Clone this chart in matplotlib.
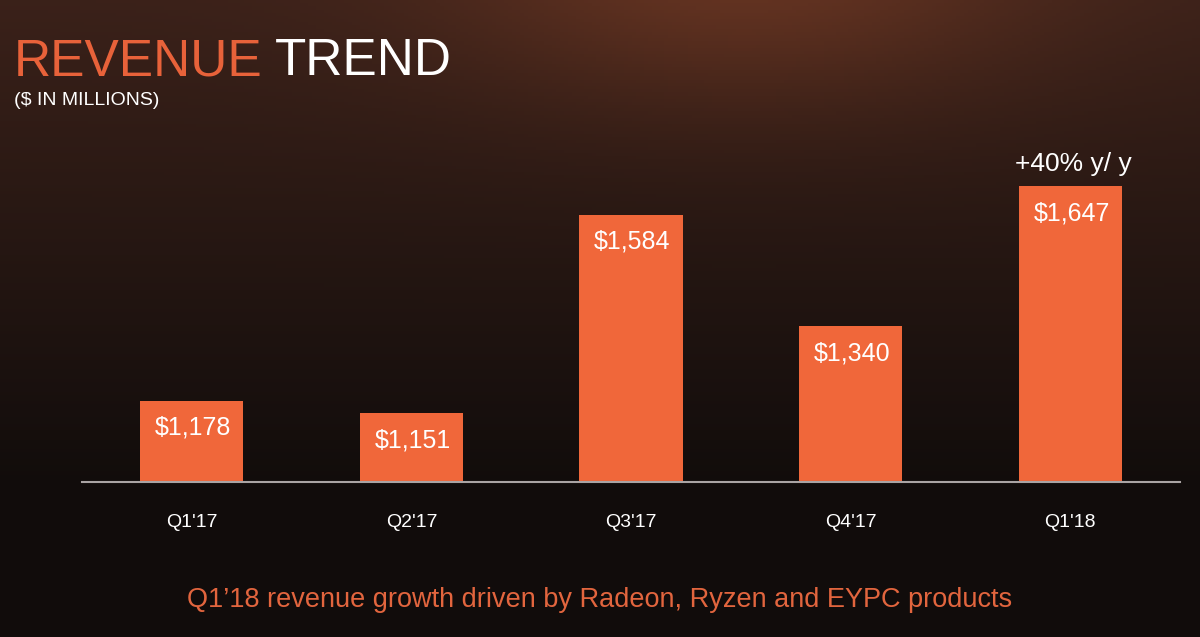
import numpy as np
import matplotlib.pyplot as plt

quarters = ["Q1'17", "Q2'17", "Q3'17", "Q4'17", "Q1'18"]
revenue = [1178, 1151, 1584, 1340, 1647]
value_labels = ["$1,178", "$1,151", "$1,584", "$1,340", "$1,647"]
growth_note = "+40% y/ y"
footer = "Q1\u201918 revenue growth driven by Radeon, Ryzen and EYPC products"

bar_color = '#f0673a'
title_orange = '#e8623a'

plt.rcParams['font.family'] = ['Liberation Sans', 'DejaVu Sans']

fig = plt.figure(figsize=(12, 6.37), dpi=100)

# dark brown-to-black background with a warm glow near the top
bg = fig.add_axes([0, 0, 1, 1])
yy, xx = np.mgrid[0:1:200j, 0:1:300j]
top = np.array([0.23, 0.13, 0.10])
bottom = np.array([0.07, 0.05, 0.045])
t = np.clip(yy / 0.75, 0, 1)[..., None]
img = top * (1 - t) + bottom * t
glow = np.exp(-(((xx - 0.62) / 0.25) ** 2 + ((yy + 0.05) / 0.22) ** 2))[..., None]
img = np.clip(img + glow * np.array([0.16, 0.07, 0.03]), 0, 1)
bg.imshow(img, extent=[0, 1, 0, 1], aspect='auto', origin='upper')
bg.axis('off')

ax = fig.add_axes([82 / 1200, 155 / 637, 1098 / 1200, 342 / 637])
ax.set_facecolor('none')
x = np.arange(len(quarters))
ax.bar(x, revenue, width=0.47, color=bar_color, zorder=2)
ax.set_xlim(-0.5, 4.5)
ax.set_ylim(1000, 1747)

for i, v in enumerate(revenue):
    ax.annotate(value_labels[i], (x[i], v), xytext=(1, -11), textcoords='offset points',
                ha='center', va='top', color='white', fontsize=18)
ax.annotate(growth_note, (x[-1], revenue[-1]), xytext=(2, 7), textcoords='offset points',
            ha='center', va='bottom', color='white', fontsize=19)

for s in ['top', 'right', 'left']:
    ax.spines[s].set_visible(False)
ax.spines['bottom'].set_color('#aaa4a4')
ax.spines['bottom'].set_linewidth(1.5)
ax.spines['bottom'].set_zorder(3)
ax.set_yticks([])
ax.set_xticks(x)
ax.set_xticklabels(quarters)
ax.tick_params(axis='x', length=0, pad=23, labelsize=14, labelcolor='white')

fig.text(14 / 1200, 1 - 75 / 637, 'REVENUE', color=title_orange, fontsize=37,
         va='baseline', ha='left')
fig.text(275 / 1200, 1 - 75 / 637, 'TREND', color='white', fontsize=37,
         va='baseline', ha='left')
fig.text(14 / 1200, 1 - 105 / 637, '($ IN MILLIONS)', color='white', fontsize=14,
         va='baseline', ha='left')
fig.text(0.5, 1 - 600 / 637, footer, color='#e2653e', fontsize=19.5,
         va='center', ha='center')

fig.savefig('out.png', dpi=100)
